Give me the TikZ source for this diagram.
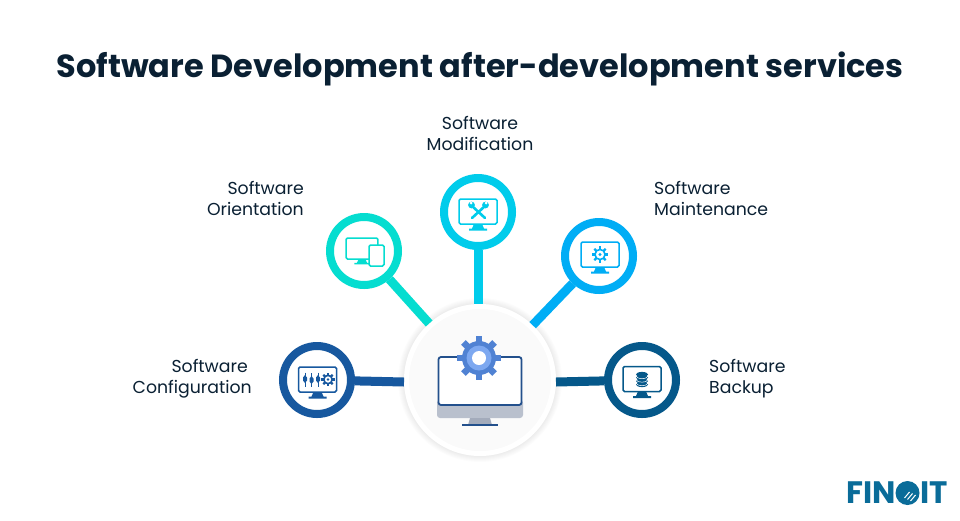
\documentclass[tikz,border=0pt]{standalone}
\usepackage{fontspec}
\setmainfont{Poppins}
\usepackage{xcolor}
\definecolor{titleink}{HTML}{0A2033}
\definecolor{orientcol}{HTML}{05DDD0}
\definecolor{modifycol}{HTML}{00CCEB}
\definecolor{maintaincol}{HTML}{00ADF5}
\definecolor{configcol}{HTML}{17589F}
\definecolor{backupcol}{HTML}{05588A}
\definecolor{hubscreen}{HTML}{23508C}
\definecolor{hubchin}{HTML}{B9C0CD}
\definecolor{hubstand}{HTML}{A3ABBB}
\definecolor{gearouter}{HTML}{5082D3}
\definecolor{gearinner}{HTML}{7DA8F0}
\definecolor{logocol}{HTML}{0A6C99}

\tikzset{
	monitor/.pic={
		\draw[line width=1.5,rounded corners=1.5,fill=white] (-19,-12.5) rectangle (19,12.5);
		\fill (-4,12.5) -- (4,12.5) -- (6,17) -- (9,17) -- (9,19) -- (-9,19) -- (-9,17) -- (-6,17) -- cycle;
	},
	smallgear/.pic={
		\foreach \a in {0,45,...,315}
			\draw[line width=2.2,rotate=\a] (0,-4) -- (0,-7);
		\draw[line width=1.6,fill=white] (0,0) circle (4.4);
		\fill (0,0) circle (1.5);
	},
	slider/.pic={
		\draw[line width=1] (0,-7) -- (0,7);
		\fill (-2,-2) -- (0,-4.5) -- (2,-2) -- (2,1) -- (0,3.5) -- (-2,1) -- cycle;
	}
}

\begin{document}
\begin{tikzpicture}[x=1pt,y=-1pt,
	ringbox/.style={circle,draw,line width=8,fill=white,minimum size=68,inner sep=0},
	link/.style={line width=9}
	]
	\tikzstyle{heading} = [font=\fontsize{32}{36}\selectfont\bfseries,text=titleink,inner sep=0]
	\tikzstyle{caption} = [font=\fontsize{17.3}{21}\selectfont,text=titleink,inner sep=0]
	\tikzstyle{logotext} = [font=\fontsize{31}{31}\selectfont\bfseries,text=logocol,inner sep=0]

	\useasboundingbox (0,0) rectangle (960,520);
	\fill[white] (0,0) rectangle (960,520);

	\node[heading] (title) at (480,68.5) {Software Development after-development services};

	\foreach \r in {82,81,80,79,78,77}
		\fill[black,opacity=0.01] (480,380) circle (\r);
	\node[circle,draw=white,line width=5,fill=black!2,minimum size=147,inner sep=0] (hub) at (480,380) {};

	\node[ringbox,draw=orientcol] (orientation) at (364,251) {};
	\node[ringbox,draw=modifycol] (modification) at (478,212) {};
	\node[ringbox,draw=maintaincol] (maintenance) at (599,256) {};
	\node[ringbox,draw=configcol] (configuration) at (317,380) {};
	\node[ringbox,draw=backupcol] (backup) at (642,380) {};

	\draw[link,orientcol] (orientation) -- (hub);
	\draw[link,modifycol] (modification) -- (modification |- hub.north);
	\draw[link,maintaincol] (maintenance) -- (hub);
	\draw[link,configcol] (configuration) -- ([yshift=-2]hub.west);
	\draw[link,backupcol] (backup) -- ([yshift=-2]hub.east);

	\node[caption,align=right,anchor=east] (orientlabel) at (304,198.5) {Software\\Orientation};
	\node[caption,align=center] (modifylabel) at (480,133.5) {Software\\Modification};
	\node[caption,align=left,anchor=west] (maintainlabel) at (654,198.5) {Software\\Maintenance};
	\node[caption,align=right,anchor=east] (configlabel) at (252,378.5) {Software\hspace*{4pt}\\Configuration};
	\node[caption,align=left,anchor=west] (backuplabel) at (709,378.5) {Software\\Backup};

	%orientation icon
	\pic[color=orientcol,scale=0.84] at (362,248.5) {monitor};
	\draw[orientcol,line width=1.5,rounded corners=1.5,fill=white] (369,245) rectangle (384,266);

	%modification icon
	\pic[color=modifycol] at (478,211.5) {monitor};
	\draw[modifycol,line width=2.6,line cap=round] (472,206) -- (485,218);
	\draw[modifycol,line width=2.6,line cap=round] (485,206) -- (472,218);
	\fill[modifycol] (471.5,205) circle (3.4);
	\fill[modifycol] (485.5,205) circle (3.4);
	\fill[white] (471,203) circle (1.5);
	\fill[white] (486,203) circle (1.5);

	%maintenance icon
	\pic[color=maintaincol] at (600,254.5) {monitor};
	\pic[color=maintaincol,scale=1.15] at (600,254.5) {smallgear};

	%configuration icon
	\pic[color=configcol] at (317.5,379.5) {monitor};
	\pic[color=configcol] at (305,379.5) {slider};
	\pic[color=configcol,yscale=-1] at (311.5,379.5) {slider};
	\pic[color=configcol] at (318,379.5) {slider};
	\pic[color=configcol,scale=0.95] at (328,379.5) {smallgear};

	%backup icon
	\pic[color=backupcol] at (642,379) {monitor};
	\foreach \y in {384.5,381,377.5,374.5}
		\fill[backupcol] (642,\y) ellipse (6 and 2.6);
	\foreach \y in {383,379.5,376}
		\draw[white,line width=0.5] (636,\y) arc[start angle=180,end angle=360,x radius=6,y radius=-2.6];

	%hub icon
	\fill[hubchin,rounded corners=3] (437,400) rectangle (523,418);
	\fill[hubstand] (470,418) -- (490,418) -- (492,425) -- (468,425) -- cycle;
	\draw[hubscreen,line width=1.6] (462,425) -- (498,425);
	\draw[hubscreen,line width=1.8,rounded corners=2.5,fill=white] (438.5,357) rectangle (521.5,405);
	\foreach \a in {0,45,...,315}
		\draw[gearouter,line width=6.5,rotate around={\a:(479,358)}] (479,344) -- (479,336);
	\fill[gearouter] (479,358) circle (17);
	\fill[gearinner] (479,358) circle (12.5);
	\fill[white] (479,358) circle (7);

	%logo
	\node[logotext,anchor=east] (logofin) at (896,493) {FIN};
	\node[circle,fill=logocol,minimum size=24,inner sep=0] (logodot) at (907.5,493) {};
	\foreach \s in {0,3,6}
		\draw[white,line width=1] ([xshift=\s-3,yshift=-\s/2-5]logodot.center) -- ++(5,-6);
	\node[logotext,anchor=west] (logoit) at (920,493) {IT};
\end{tikzpicture}
\end{document}
